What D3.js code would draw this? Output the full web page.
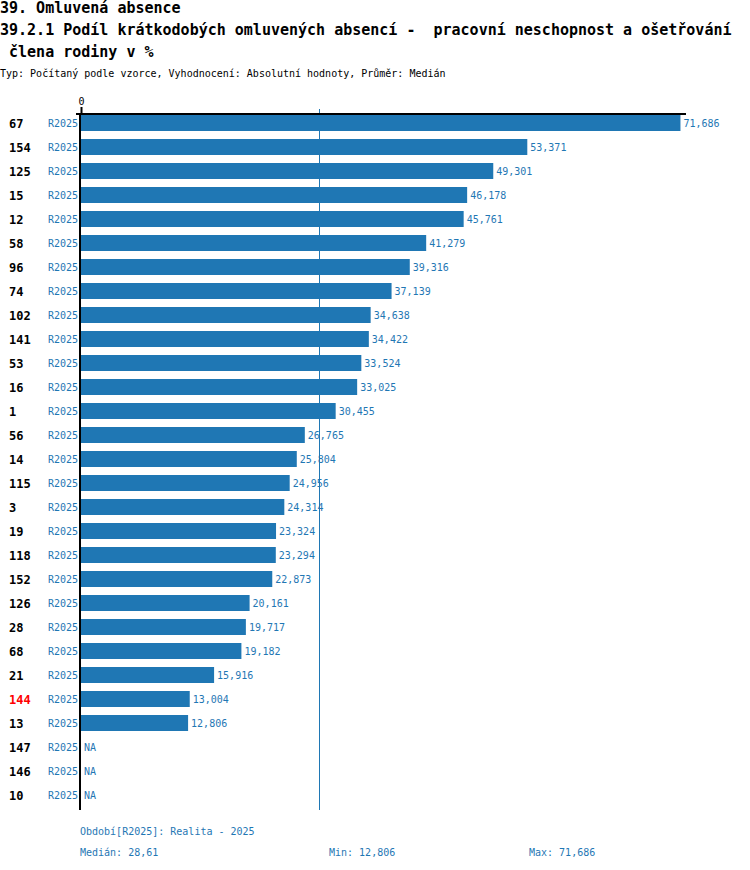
<!DOCTYPE html>
<html><head><meta charset="utf-8">
<script src="https://cdn.jsdelivr.net/npm/d3@7"></script>
<style>
body{margin:0;background:#fff;}
text{font-family:"DejaVu Sans Mono",monospace;}
</style></head>
<body><svg id="c" width="750" height="870"></svg>
<script>
const ids = ["67","154","125","15","12","58","96","74","102","141","53","16","1","56","14","115","3","19","118","152","126","28","68","21","144","13","147","146","10"];
const periods = ["R2025","R2025","R2025","R2025","R2025","R2025","R2025","R2025","R2025","R2025","R2025","R2025","R2025","R2025","R2025","R2025","R2025","R2025","R2025","R2025","R2025","R2025","R2025","R2025","R2025","R2025","R2025","R2025","R2025"];
const values = [71.686,53.371,49.301,46.178,45.761,41.279,39.316,37.139,34.638,34.422,33.524,33.025,30.455,26.765,25.804,24.956,24.314,23.324,23.294,22.873,20.161,19.717,19.182,15.916,13.004,12.806,null,null,null];
const highlighted = ["144"];
const medianValue = 28.61;
const minValue = 12.806;
const maxValue = 71.686;
const xTicks = [0];
const titleLines = ["39. Omluvená absence","39.2.1 Podíl krátkodobých omluvených absencí -  pracovní neschopnost a ošetřování"," člena rodiny v %"];
const subtitle = "Typ: Počítaný podle vzorce, Vyhodnocení: Absolutní hodnoty, Průměr: Medián";
const footer = "Období[R2025]: Realita - 2025";

const blue = "#1f77b4";
const svg = d3.select("#c");
const fmt = v => v.toFixed(3).replace(".", ",");
const fmt2 = v => String(v).replace(".", ",");

// titles
svg.selectAll("text.title").data(titleLines).join("text")
  .attr("x", 0).attr("y", (d,i)=> 13 + i*22)
  .attr("font-size", 15).attr("font-weight", "bold").attr("fill", "#000")
  .style("white-space","pre").attr("xml:space","preserve")
  .text(d=>d);
svg.append("text").attr("x",0).attr("y",77).attr("font-size",10).attr("fill","#000").text(subtitle);

const x0 = 81, y0 = 114;
const x = d3.scaleLinear().domain([0, 72.35]).range([x0, 686]);
const y = d3.scaleBand().domain(ids).range([y0-0.5, y0-0.5+24*ids.length]).paddingInner(1/3).paddingOuter(0);
// manual band so that bars are at 114+i*24
const yb = d3.scaleBand().domain(ids).range([y0+1, y0+1+24*ids.length]).padding(0);
const barH = 16;
const data = ids.map((id,i)=>({id, p:periods[i], v:values[i]}));

// bars
svg.selectAll("rect.bar").data(data.filter(d=>d.v!=null)).join("rect")
  .attr("x", x(0)).attr("y", d=>yb(d.id))
  .attr("width", d=>x(d.v)-x(0)).attr("height", barH).attr("fill", blue);

// value labels
svg.selectAll("text.val").data(data).join("text")
  .attr("x", d=> d.v!=null ? x(d.v)+3 : x(0)+3)
  .attr("y", d=>yb(d.id)+barH/2+4)
  .attr("font-size",10).attr("fill",blue)
  .text(d=> d.v!=null ? fmt(d.v) : "NA");

// id labels
svg.selectAll("text.id").data(data).join("text")
  .attr("x", 9).attr("y", d=>yb(d.id)+barH/2+4.5)
  .attr("font-size",12).attr("font-weight","bold")
  .attr("fill", d=> highlighted.includes(d.id) ? "#ff0000" : "#000")
  .text(d=>d.id);
// period labels
svg.selectAll("text.per").data(data).join("text")
  .attr("x", 78).attr("y", d=>yb(d.id)+barH/2+4)
  .attr("text-anchor","end")
  .attr("font-size",10).attr("fill",blue)
  .text(d=>d.p);

const yEnd = 810;
// median line
svg.append("line").attr("x1", Math.round(x(medianValue))-0.5).attr("x2", Math.round(x(medianValue))-0.5)
  .attr("y1", 109).attr("y2", yEnd).attr("stroke", blue).attr("stroke-width",1);

// top axis
const axis = d3.axisTop(x).tickValues(xTicks).tickSize(7).tickSizeOuter(0).tickFormat(d3.format("d"));
const ga = svg.append("g").attr("transform", `translate(0,${y0})`).call(axis);
ga.select(".domain").attr("stroke","#000").attr("stroke-width",2).attr("d", `M76,0H${x.range()[1]}`);
ga.selectAll(".tick line").attr("stroke","#000").attr("stroke-width",2);
ga.selectAll(".tick text").attr("font-family","DejaVu Sans Mono").attr("font-size",10).attr("fill","#000").attr("dy","0.1em");

// vertical axis line
svg.append("line").attr("x1", 80).attr("x2", 80).attr("y1", y0).attr("y2", yEnd)
  .attr("stroke","#000").attr("stroke-width",2);

// footer
svg.append("text").attr("x",80).attr("y",835).attr("font-size",10).attr("fill",blue).text(footer);
svg.append("text").attr("x",80).attr("y",856).attr("font-size",10).attr("fill",blue).text("Medián: " + fmt2(medianValue));
svg.append("text").attr("x",329).attr("y",856).attr("font-size",10).attr("fill",blue).text("Min: " + fmt(minValue));
svg.append("text").attr("x",529).attr("y",856).attr("font-size",10).attr("fill",blue).text("Max: " + fmt(maxValue));
</script></body></html>
